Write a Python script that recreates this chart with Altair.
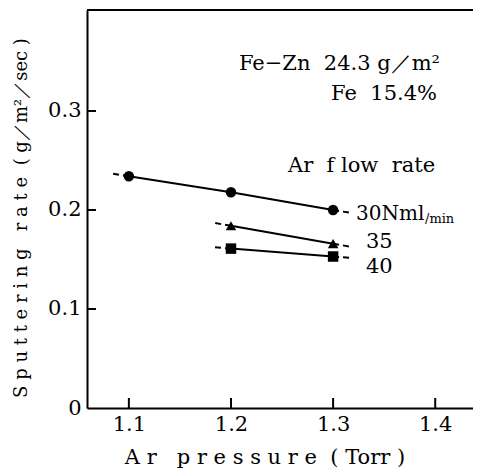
import altair as alt
import pandas as pd

# ---- data ----
flow_rates = ["30", "35", "40"]
pressure_30 = [1.1, 1.2, 1.3]
rate_30 = [0.234, 0.218, 0.200]
pressure_35 = [1.2, 1.3]
rate_35 = [0.184, 0.166]
pressure_40 = [1.2, 1.3]
rate_40 = [0.161, 0.153]

x_ticks = [1.1, 1.2, 1.3, 1.4]
y_ticks = [0.0, 0.1, 0.2, 0.3]
x_domain = [1.059, 1.437]
y_domain = [0.0, 0.402]

W, H = 386, 398
FONT = "DejaVu Serif"
NB = "\u00a0"

series = {"30": (pressure_30, rate_30), "35": (pressure_35, rate_35), "40": (pressure_40, rate_40)}
shapes = {"30": "circle", "35": "triangle-up", "40": "square"}

rows = []
ext_rows = []
ext_len = 0.016
for s in flow_rates:
    xs, ys = series[s]
    for x, y in zip(xs, ys):
        rows.append({"flow": s, "p": x, "r": y})
    slope = (ys[-1] - ys[0]) / (xs[-1] - xs[0])
    ext_rows.append({"seg": s + "L", "o": 0, "p": xs[0], "r": ys[0]})
    ext_rows.append({"seg": s + "L", "o": 1, "p": xs[0] - ext_len, "r": ys[0] - slope * ext_len})
    ext_rows.append({"seg": s + "R", "o": 0, "p": xs[-1], "r": ys[-1]})
    ext_rows.append({"seg": s + "R", "o": 1, "p": xs[-1] + ext_len, "r": ys[-1] + slope * ext_len})

df = pd.DataFrame(rows)
ext = pd.DataFrame(ext_rows)

xs_scale = alt.Scale(domain=x_domain, nice=False, zero=False)
ys_scale = alt.Scale(domain=y_domain, nice=False, zero=False)

x_axis = alt.Axis(values=x_ticks, format=".1f", ticks=False, grid=False, title=None,
                  labelFont=FONT, labelFontSize=21, labelColor="black", labelPadding=5,
                  domainColor="black", domainWidth=2)
y_axis = alt.Axis(values=y_ticks, labelExpr="datum.value == 0 ? '0' : format(datum.value, '.1f')",
                  ticks=False, grid=False, title=None,
                  labelFont=FONT, labelFontSize=21, labelColor="black", labelPadding=6,
                  domainColor="black", domainWidth=2)

base = alt.Chart(df)

lines = base.mark_line(color="black", strokeWidth=2).encode(
    x=alt.X("p:Q", scale=xs_scale, axis=x_axis),
    y=alt.Y("r:Q", scale=ys_scale, axis=y_axis),
    detail="flow:N",
)

ext_lines = alt.Chart(ext).mark_line(color="black", strokeWidth=2, strokeDash=[6, 4]).encode(
    x=alt.X("p:Q", scale=xs_scale),
    y=alt.Y("r:Q", scale=ys_scale),
    detail="seg:N",
    order="o:Q",
)

points = base.mark_point(filled=True, color="black", opacity=1, size=110).encode(
    x=alt.X("p:Q", scale=xs_scale),
    y=alt.Y("r:Q", scale=ys_scale),
    shape=alt.Shape("flow:N", scale=alt.Scale(domain=flow_rates, range=[shapes[f] for f in flow_rates]), legend=None),
)

xt = alt.Chart(pd.DataFrame({"v": x_ticks})).mark_rule(color="black", strokeWidth=2).encode(
    x=alt.X("v:Q", scale=xs_scale), y=alt.value(H - 10), y2=alt.value(H))
yt = alt.Chart(pd.DataFrame({"v": y_ticks[1:]})).mark_rule(color="black", strokeWidth=2).encode(
    y=alt.Y("v:Q", scale=ys_scale), x=alt.value(0), x2=alt.value(9))
top = alt.Chart(pd.DataFrame({"a": [0]})).mark_rule(color="black", strokeWidth=2).encode(
    x=alt.value(0), x2=alt.value(W), y=alt.value(0))

def label(text, x, y, align="left", size=21, angle=0, baseline="alphabetic"):
    return alt.Chart(pd.DataFrame({"t": [text]})).mark_text(
        font=FONT, fontSize=size, align=align, baseline=baseline, angle=angle, color="black"
    ).encode(text="t:N", x=alt.value(x), y=alt.value(y))

def spaced(word):
    return NB.join(word)

ytitle = (spaced("Sputtering") + NB * 3 + spaced("rate") + NB * 2 + "(" + NB + "g／m²／sec" + NB + ")")
xtitle = (spaced("Ar") + NB * 3 + spaced("pressure") + NB * 2 + "(" + NB + "Torr" + NB + ")")

texts = [
    label("Fe−Zn" + NB * 2 + "24.3" + NB + "g／m²", 353, 60, align="right"),
    label("Fe" + NB * 2 + "15.4%", 350, 90, align="right"),
    label("Ar" + NB * 2 + "f" + NB + "low" + NB * 2 + "rate", 201, 162),
    label("30Nml", 269, 210, size=20),
    label("/min", 338, 213, size=13),
    label("35", 279, 238),
    label("40", 279, 263),
    label(ytitle, -65, 208, align="center", angle=270, baseline="middle", size=18),
    label(xtitle, 178, 454, align="center", size=21),
]

chart = alt.layer(lines, ext_lines, points, xt, yt, top, *texts).properties(
    width=W, height=H,
    autosize=alt.AutoSizeParams(type="none"),
    padding={"left": 79, "top": 2, "right": 0, "bottom": 60},
).configure_view(stroke=None)

chart.save("out.html", embed_options={"renderer": "svg", "actions": False})
